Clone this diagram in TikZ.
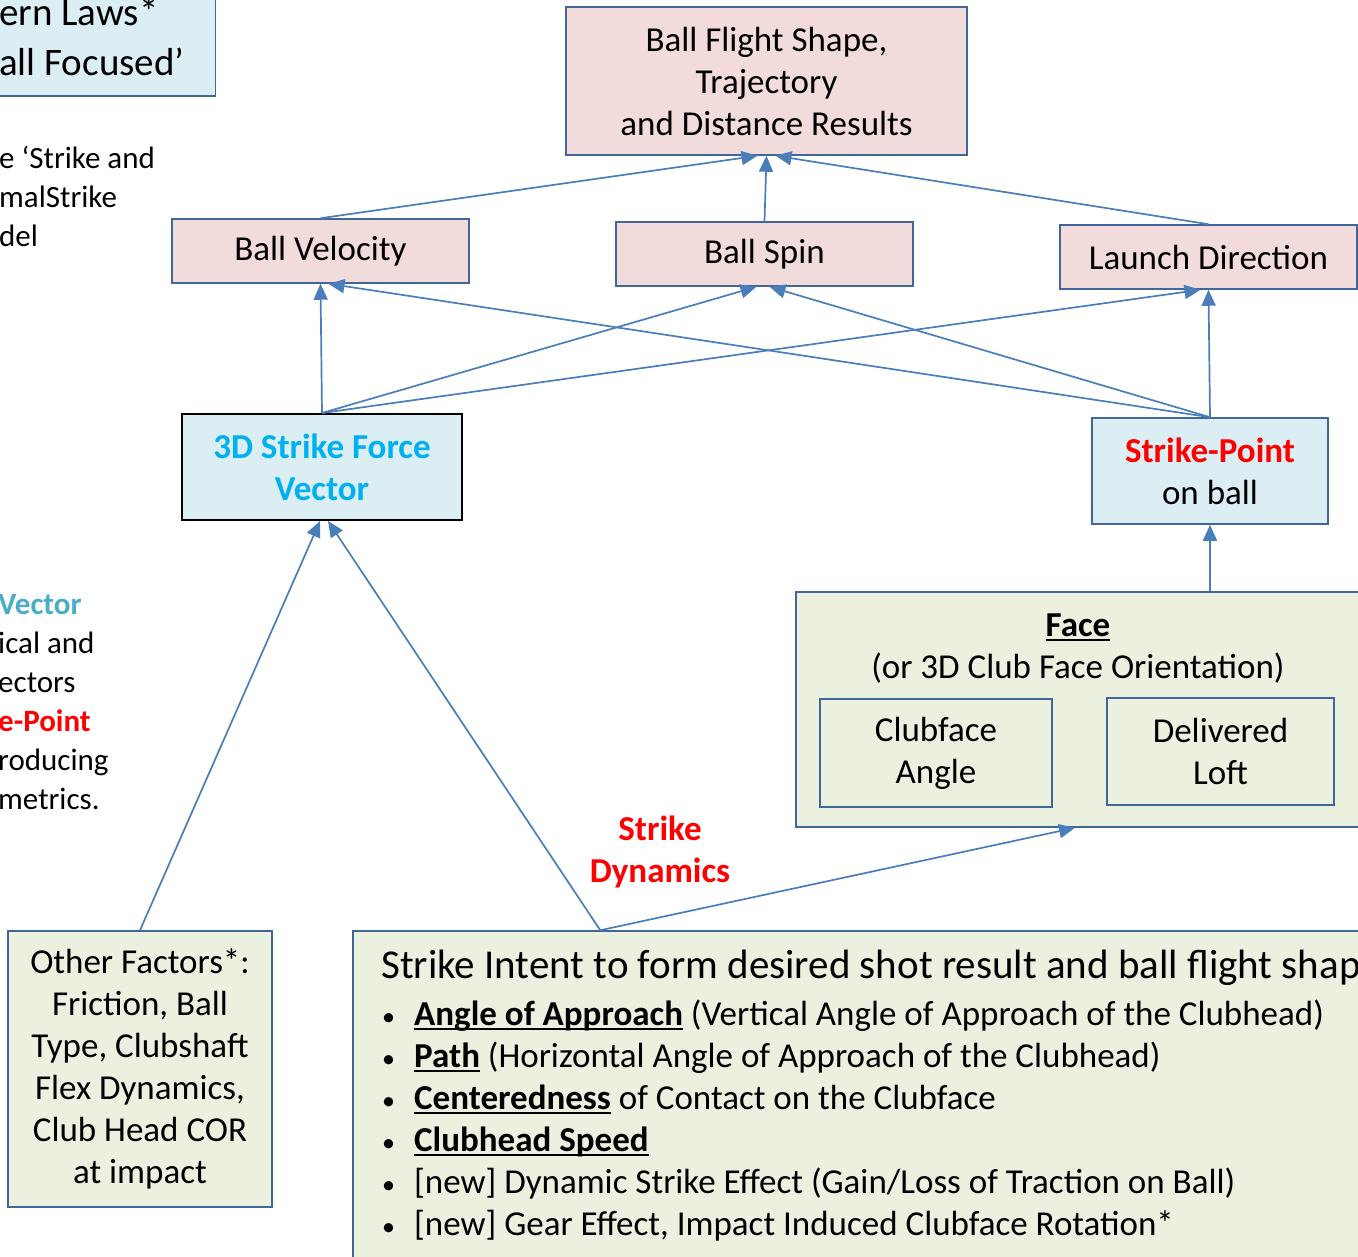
\documentclass[tikz,border=0pt]{standalone}
\usepackage{fontspec}
\setmainfont{Carlito}
\usetikzlibrary{positioning,arrows.meta}
\definecolor{pinkFill}{HTML}{F2DCDB}
\definecolor{blueFill}{HTML}{DBEEF4}
\definecolor{greenFill}{HTML}{EBF1DE}
\definecolor{boxLine}{HTML}{41669A}
\definecolor{arrowBlue}{HTML}{4A7EBB}
\definecolor{vectorBlue}{HTML}{00B0F0}
\definecolor{tealBlue}{HTML}{4BACC6}
\definecolor{strikeRed}{HTML}{FF0000}

\newcommand{\ulword}[1]{\setbox0=\hbox{\textbf{#1}}\rlap{\rule[-4pt]{\wd0}{2pt}}\box0\relax}
\newcommand{\dotitem}{\makebox[33pt][l]{\hspace{1pt}{\fontsize{26}{26}\selectfont•}}}

\tikzset{
  big/.style={font=\fontsize{35}{42}\selectfont},
  resbox/.style={big, draw=boxLine, line width=1.5pt, fill=pinkFill, align=center, inner sep=0pt},
  causebox/.style={big, draw=boxLine, line width=1.5pt, fill=blueFill, align=center, inner sep=0pt},
  inputbox/.style={big, draw=boxLine, line width=1.5pt, fill=greenFill, align=center, inner sep=0pt},
  facepart/.style={big, draw=boxLine, line width=2.5pt, fill=greenFill, align=center, inner sep=0pt},
  fragtext/.style={font=\fontsize{31}{39}\selectfont, align=left, inner sep=0pt},
  link/.style={arrowBlue, line width=1.7pt, -{Triangle[length=16pt,width=14pt]}},
}

\begin{document}
\begin{tikzpicture}[x=1pt,y=-1pt]
  \useasboundingbox (0,0) rectangle (1358,1257);

  % left side, cut off
  \node[causebox, anchor=south east, minimum width=260, minimum height=130] (lawsbox) at (216,97) {};
  \node[font=\fontsize{39}{50}\selectfont, align=left, inner sep=0pt, anchor=west] (lawstext) at (-1,37) {ern Laws*\\all Focused’};
  \node[fragtext, anchor=west] (fragtop) at (-1,196.5) {e ‘Strike and\\malStrike\\del};
  \node[fragtext, anchor=west] (fragmid) at (-2,702.5)
    {\textcolor{tealBlue}{\textbf{Vector}}\\ical and\\ectors\\\textcolor{strikeRed}{\textbf{e-Point}}\\roducing\\metrics.};

  % results
  \node[resbox, minimum width=401, minimum height=148] (bfs) at (766.5,81) {Ball Flight Shape,\\Trajectory\\and Distance Results};
  \node[resbox, minimum width=297, minimum height=64] (bv) at (320.5,251) {Ball Velocity};
  \node[resbox, minimum width=297, minimum height=64] (bs) at (764.5,254) {Ball Spin};
  \node[resbox, minimum width=297, minimum height=64] (ld) at (1208.5,257) {Launch Direction};

  % causes
  \node[causebox, draw=black, line width=2pt, minimum width=280, minimum height=106] (sfv) at (322,467)
    {\textcolor{vectorBlue}{\textbf{3D Strike Force}}\\\textcolor{vectorBlue}{\textbf{Vector}}};
  \node[causebox, minimum width=236, minimum height=106] (sp) at (1210,471)
    {\textcolor{strikeRed}{\textbf{Strike-Point}}\\on ball};

  % face
  \node[inputbox, minimum width=566, minimum height=235] (face) at (1079,709.5) {};
  \node[big, align=center, inner sep=0pt] (facetext) at (1078,649) {\ulword{Face}\\(or 3D Club Face Orientation)};
  \node[facepart, minimum width=232, minimum height=108] (cfa) at (936,753) {Clubface\\Angle};
  \node[facepart, minimum width=227, minimum height=107] (loft) at (1220.5,751.5) {Delivered\\Loft};

  % inputs
  \node[inputbox, minimum width=264, minimum height=276] (others) at (140,1069)
    {Other Factors*:\\Friction, Ball\\Type, Clubshaft\\Flex Dynamics,\\Club Head COR\\at impact};
  \node[inputbox, minimum width=1010, minimum height=332] (intentbox) at (858,1097) {};
  \node[font=\fontsize{41}{46}\selectfont, inner sep=0pt, anchor=west] (intenttitle) at (381,968)
    {Strike Intent to form desired shot result and ball flight shape};
  \node[big, align=left, inner sep=0pt, anchor=west] (intent) at (381,1121)
    {\dotitem\ulword{Angle of Approach} (Vertical Angle of Approach of the Clubhead)\\
     \dotitem\ulword{Path} (Horizontal Angle of Approach of the Clubhead)\\
     \dotitem\ulword{Centeredness} of Contact on the Clubface\\
     \dotitem\ulword{Clubhead Speed}\\
     \dotitem[new] Dynamic Strike Effect (Gain/Loss of Traction on Ball)\\
     \dotitem[new] Gear Effect, Impact Induced Clubface Rotation*};
  \node[align=center, inner sep=0pt, text=strikeRed, font=\fontsize{35}{42}\selectfont\bfseries] (dyn) at (660,852) {Strike\\Dynamics};

  \coordinate (si) at ([xshift=248]intentbox.north west);

  % connectors
  \draw[link] (bv.north) -- ([xshift=-9]bfs.south);
  \draw[link] (bs.north) -- (bfs.south);
  \draw[link] (ld.north) -- ([xshift=9]bfs.south);
  \draw[link] (sfv.north) -- (bv.south);
  \draw[link] (sfv.north) -- ([xshift=-8]bs.south);
  \draw[link] (sfv.north) -- ([xshift=-8]ld.south);
  \draw[link] (sp.north) -- ([xshift=8]bv.south);
  \draw[link] (sp.north) -- ([xshift=5]bs.south);
  \draw[link] (sp.north) -- (ld.south);
  \draw[link] (sp.south |- face.north) -- (sp.south);
  \draw[link] (others.north) -- ([xshift=-2]sfv.south);
  \draw[link] (si) -- ([xshift=6]sfv.south);
  \draw[link] (si) -- ([xshift=-4]face.south);
\end{tikzpicture}
\end{document}
